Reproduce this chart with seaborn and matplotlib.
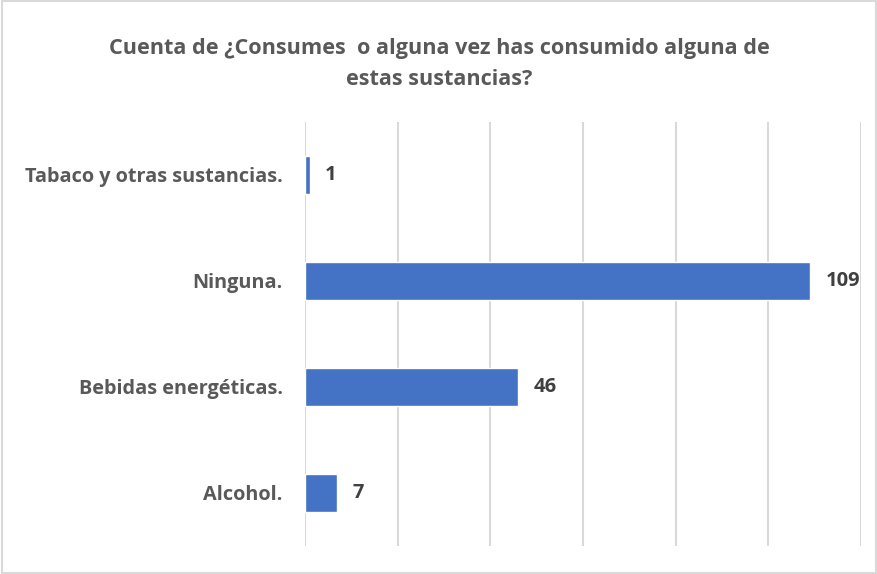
import matplotlib
matplotlib.use("Agg")
import matplotlib.pyplot as plt
import seaborn as sns
import pandas as pd
from matplotlib.patches import Rectangle

categories = ["Tabaco y otras sustancias.", "Ninguna.", "Bebidas energéticas.", "Alcohol."]
counts = [1, 109, 46, 7]
x_ticks = [0, 20, 40, 60, 80, 100, 120]

title = "Cuenta de ¿Consumes  o alguna vez has consumido alguna de\nestas sustancias?"

sns.set_theme(style="white")
plt.rcParams["font.family"] = ["Open Sans", "DejaVu Sans"]

df = pd.DataFrame({"categoria": categories, "cuenta": counts})

fig = plt.figure(figsize=(8.78, 5.74), dpi=100)
ax = fig.add_axes([0.3474, 0.0488, 0.6333, 0.7387])

sns.barplot(data=df, y="categoria", x="cuenta", orient="h", color="#4472C4",
            width=0.35, saturation=1, ax=ax)

ax.set_xlim(0, 120)
ax.set_ylim(3.5, -0.5)
ax.set_xticks(x_ticks)
ax.set_xticklabels([])
ax.tick_params(axis="both", length=0)
ax.xaxis.grid(True, color="#d9d9d9", linewidth=1.5)
ax.set_axisbelow(True)
for s in ax.spines.values():
    s.set_visible(False)
ax.set_xlabel("")
ax.set_ylabel("")
for lbl in ax.get_yticklabels():
    lbl.set_fontweight("bold")
    lbl.set_fontsize(14.3)
    lbl.set_color("#595959")
ax.tick_params(axis="y", pad=16)

for i, v in enumerate(counts):
    ax.annotate(str(v), xy=(v, i), xytext=(11, 0), textcoords="offset points",
                va="center", ha="left", fontsize=14.5, fontweight="bold", color="#404040")

fig.text(0.5, 0.888, title, ha="center", va="center", fontsize=15.6,
         fontweight="bold", color="#595959", linespacing=1.65)

fig.patches.append(Rectangle((0.002, 0.002), 0.996, 0.996, transform=fig.transFigure,
                             fill=False, edgecolor="#d9d9d9", linewidth=1.5))

fig.savefig("out.png", dpi=100)
